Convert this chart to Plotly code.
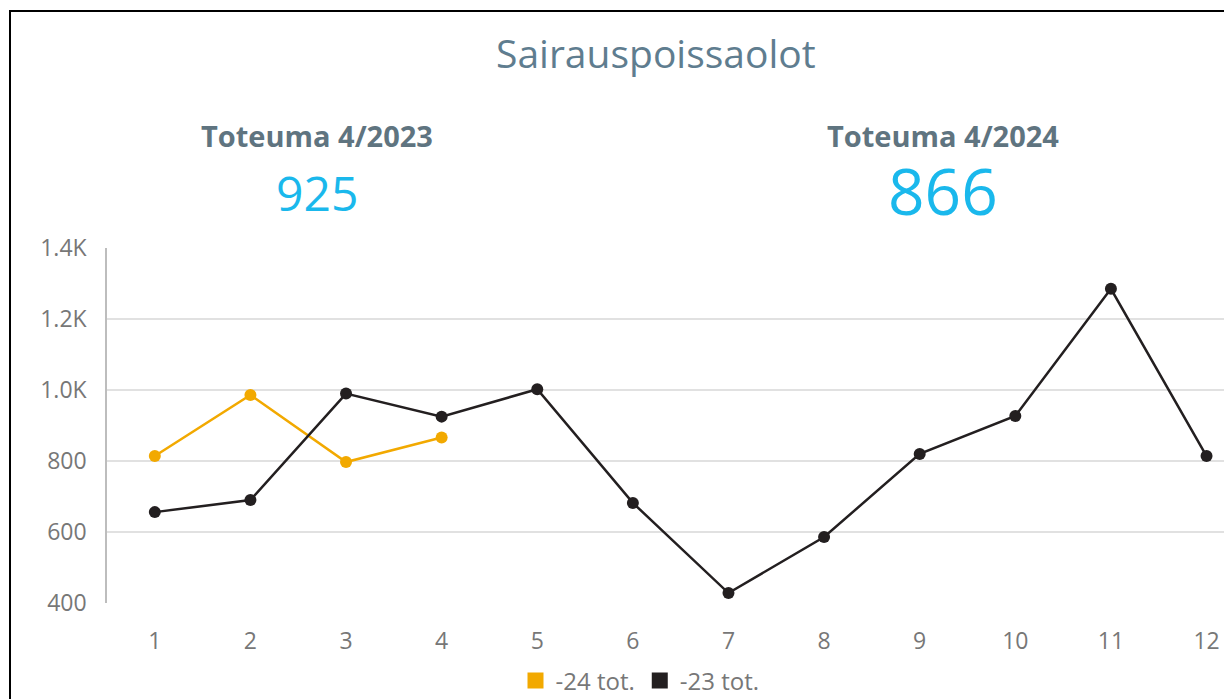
import plotly.graph_objects as go

months = [1, 2, 3, 4, 5, 6, 7, 8, 9, 10, 11, 12]
tot_23 = [656, 690, 990, 925, 1002, 682, 428, 586, 820, 927, 1285, 814]
months_24 = [1, 2, 3, 4]
tot_24 = [814, 986, 797, 866]
ytick_vals = [400, 600, 800, 1000, 1200, 1400]
ytick_text = ["400", "600", "800", "1.0K", "1.2K", "1.4K"]
xtick_text = [str(m) for m in months]

ORANGE = "#F2A900"
BLACK = "#231F20"
GRAY = "#777777"
SLATE = "#5F7D8F"
CYAN = "#1AB8EC"
FONT = "Open Sans"

fig = go.Figure()
fig.add_trace(go.Scatter(x=months_24, y=tot_24, mode="lines+markers", name="-24 tot.",
                         line=dict(color=ORANGE, width=2.5), marker=dict(size=12, color=ORANGE),
                         showlegend=False))
fig.add_trace(go.Scatter(x=months, y=tot_23, mode="lines+markers", name="-23 tot.",
                         line=dict(color=BLACK, width=2.5), marker=dict(size=12, color=BLACK),
                         showlegend=False))
# legend-only entries with square swatches
fig.add_trace(go.Scatter(x=[None], y=[None], mode="markers", name="-24 tot.",
                         marker=dict(symbol="square", size=16, color=ORANGE)))
fig.add_trace(go.Scatter(x=[None], y=[None], mode="markers", name="-23 tot.",
                         marker=dict(symbol="square", size=16, color=BLACK)))

OFF = 8  # page body margin
W, H = 1232, 699
L = 107 - OFF
T = 248 - OFF
BOT = 603 - OFF
B = H - BOT
plot_h = BOT - T
plot_w = W - L

def px(xp):
    return (xp - OFF - L) / plot_w

def py(yp):
    return (BOT - (yp - OFF)) / plot_h

annotations = [
    dict(text="Sairauspoissaolot", x=px(656), y=py(52), font=dict(size=39, color=SLATE, family=FONT)),
    dict(text="<b>Toteuma 4/2023</b>", x=px(317), y=py(136), font=dict(size=29, color="#5F7480", family=FONT)),
    dict(text="925", x=px(317), y=py(192), font=dict(size=48, color=CYAN, family=FONT)),
    dict(text="<b>Toteuma 4/2024</b>", x=px(943), y=py(136), font=dict(size=29, color="#5F7480", family=FONT)),
    dict(text="866", x=px(943), y=py(190), font=dict(size=64, color=CYAN, family=FONT)),
]
for a in annotations:
    a.update(xref="paper", yref="paper", xanchor="center", yanchor="middle", showarrow=False)

fig.update_layout(
    width=W, height=H, autosize=False,
    margin=dict(l=L, r=0, t=T, b=B, pad=0),
    paper_bgcolor="white", plot_bgcolor="white",
    font=dict(family=FONT, color=GRAY, size=22),
    annotations=annotations,
    shapes=[dict(type="rect", xref="paper", yref="paper",
                 x0=px(10), x1=1.2, y0=-0.6, y1=py(11),
                 line=dict(color="black", width=2), layer="above")],
    legend=dict(orientation="h", x=px(640), y=py(681), xanchor="center", yanchor="middle",
                font=dict(size=24, color=GRAY, family=FONT), itemwidth=30,
                bgcolor="rgba(0,0,0,0)"),
    xaxis=dict(range=[0.5, 12.35], tickvals=months, ticktext=xtick_text, showgrid=False,
               zeroline=False, showline=False, ticks="outside", ticklen=17,
               tickcolor="rgba(0,0,0,0)", tickfont=dict(size=23, color=GRAY)),
    yaxis=dict(range=[400, 1400], tickvals=ytick_vals, ticktext=ytick_text, showgrid=True,
               gridcolor="#E1E1E1", gridwidth=1.5, zeroline=False, showline=True,
               linecolor="#BDBDBD", linewidth=1.5, ticks="outside", ticklen=14,
               tickcolor="rgba(0,0,0,0)", tickfont=dict(size=23, color=GRAY)),
)

fig.write_html("out.html")
